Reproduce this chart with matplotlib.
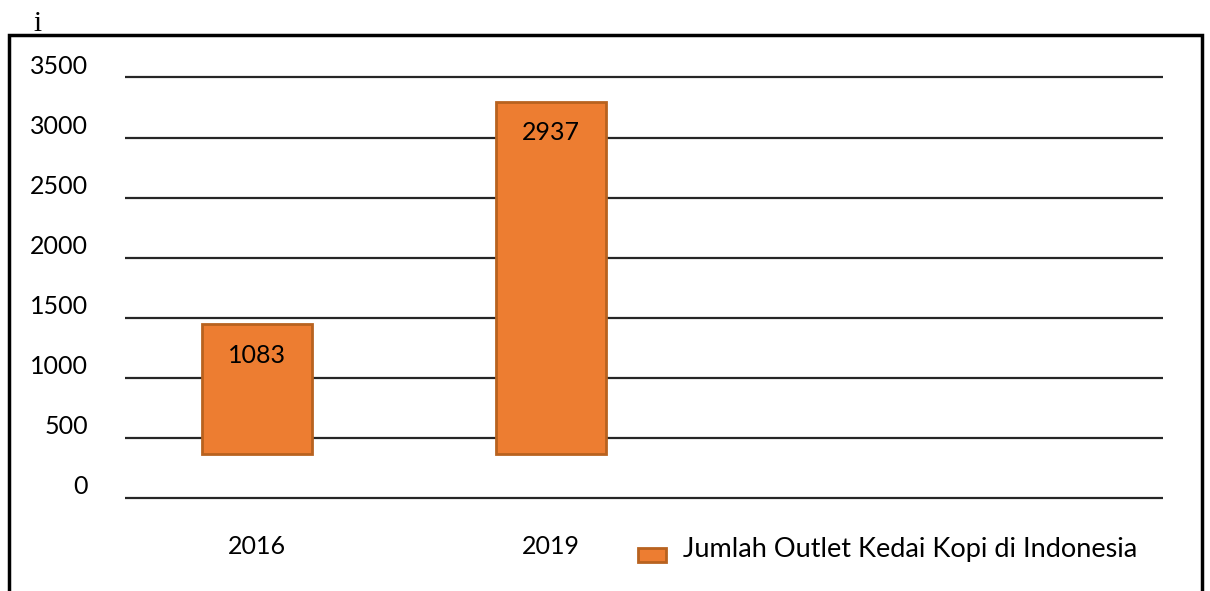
import matplotlib
matplotlib.use("Agg")
import matplotlib.pyplot as plt
from matplotlib.lines import Line2D
from matplotlib.patches import Rectangle
from matplotlib.legend_handler import HandlerPatch, update_from_first_child
from matplotlib.transforms import ScaledTranslation, blended_transform_factory

plt.rcParams["font.family"] = ["Lato", "DejaVu Sans"]

# Data
years = ["2016", "2019"]
outlets = [1083, 2937]
series_name = "Jumlah Outlet Kedai Kopi di Indonesia"
y_ticks = [0, 500, 1000, 1500, 2000, 2500, 3000, 3500]
y_tick_labels = ["0", "500", "1000", "1500", "2000", "2500", "3000", "3500"]
bar_base = 360

W, H = 1210, 591
fig = plt.figure(figsize=(W / 100, H / 100), dpi=100)


def fx(px):
    return px / W


def fy(py):
    return 1 - py / H


ax = fig.add_axes([fx(125), fy(497.5), fx(1162.7) - fx(125), fy(77.5) - fy(497.5)])
xmin, xmax = -0.449, 3.0806
ax.set_xlim(xmin, xmax)
ax.set_ylim(0, 3500)

# horizontal rules at each tick value
ax.hlines(y_ticks, xmin, xmax, colors="#262626", linewidth=1.6, zorder=1,
          clip_on=False)

x = list(range(len(years)))
bars = ax.bar(x, outlets, bottom=bar_base, width=0.375, color="#ED7D31",
              edgecolor="#B8621F", linewidth=2, zorder=2, label=series_name)

for xi, v in zip(x, outlets):
    ax.annotate(str(v), xy=(xi, bar_base + v), xytext=(0, -31 * 0.72),
                textcoords="offset points", ha="center", va="center",
                fontsize=18, color="black", zorder=3)

# value labels on the left, raised above each rule
lab_off = ScaledTranslation(0, 11 / 100, fig.dpi_scale_trans)
lab_trans = blended_transform_factory(fig.transFigure, ax.transData) + lab_off
for v, lab in zip(y_ticks, y_tick_labels):
    ax.text(fx(88), v, lab, ha="right", va="center", fontsize=18,
            transform=lab_trans)

for xi, lab in zip(x, years):
    ax.annotate(lab, xy=(xi, 0), xycoords=("data", "axes fraction"),
                xytext=(0, -49.5 * 0.72), textcoords="offset points",
                ha="center", va="center", fontsize=18)

ax.axis("off")


def low_swatch(legend, orig_handle, xdescent, ydescent, width, height, fontsize):
    # swatch sits a little below the text's centre line
    return Rectangle((-xdescent, -ydescent - 5), width, height)


ax.legend(loc="center left", bbox_to_anchor=(fx(638), fy(550)),
          bbox_transform=fig.transFigure, frameon=False, fontsize=19.5,
          borderpad=0, borderaxespad=0, handlelength=1.04, handleheight=0.4,
          handletextpad=0.63,
          handler_map={type(bars): HandlerPatch(patch_func=low_swatch,
                                                update_func=update_from_first_child)})

# outer frame
frame_x = [fx(8.5), fx(8.5), fx(1201.5), fx(1201.5)]
frame_y = [0, fy(35), fy(35), 0]
fig.add_artist(Line2D(frame_x, frame_y, transform=fig.transFigure,
                      color="black", linewidth=2.5, solid_joinstyle="miter"))

fig.text(fx(37), fy(24), "i", ha="center", va="center", fontsize=21,
         family="Liberation Serif")

fig.savefig("out.png", dpi=100)
